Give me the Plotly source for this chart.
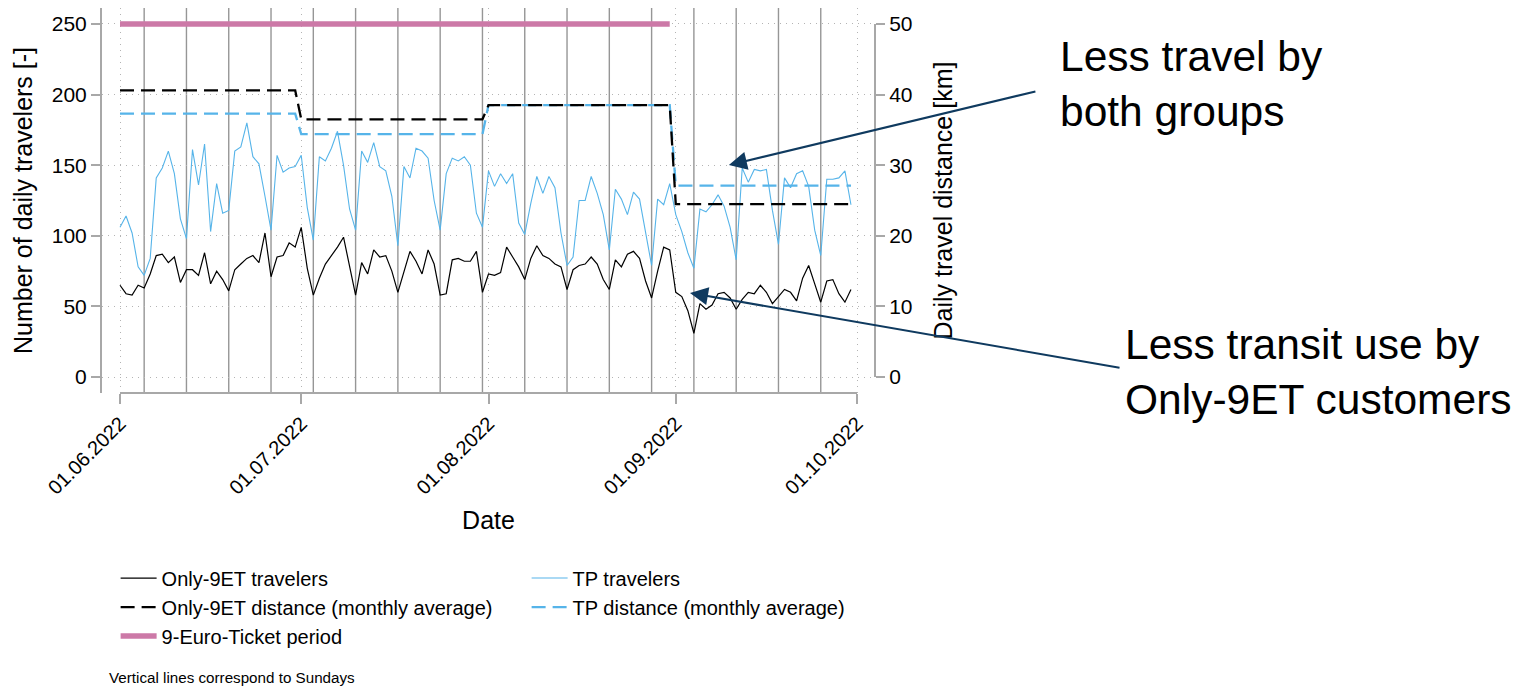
import pandas as pd
import plotly.graph_objects as go

# ---------------- data ----------------
start_date = "2022-06-01"

only9et_travelers = [
    65, 59, 58, 65, 63, 73, 86, 87, 81, 85, 67, 76, 76, 72, 88, 66, 75, 69, 61, 76,
    80, 84, 86, 81, 102, 71, 85, 86, 95, 92,
    106, 77, 58, 70, 80, 86, 92, 99, 78, 58, 81, 73, 90, 85, 86, 75, 60, 75, 89, 82,
    73, 90, 80, 58, 59, 83, 84, 82, 82, 89, 60,
    73, 72, 74, 92, 85, 78, 69, 84, 93, 86, 84, 80, 78, 62, 76, 79, 80, 85, 80,
    69, 62, 83, 78, 87, 89, 84, 68, 56, 75, 92, 90,
    60, 57, 47, 31, 52, 48, 51, 59, 60, 56, 48, 55, 60, 59, 65, 60, 52, 57, 62, 60,
    54, 70, 79, 66, 53, 68, 69, 59, 53, 62,
]

tp_travelers = [
    106, 114, 102, 78, 72, 84, 141, 148, 160, 144, 112, 98, 161, 136, 165, 103, 137, 116, 118, 160,
    163, 180, 156, 151, 128, 104, 157, 145, 148, 149,
    157, 120, 97, 156, 153, 162, 174, 150, 119, 104, 160, 152, 166, 149, 146, 128, 93, 149, 141, 162,
    160, 155, 125, 104, 144, 155, 153, 156, 150, 116, 106,
    146, 135, 144, 137, 144, 109, 101, 123, 142, 130, 142, 134, 102, 79, 85, 125, 125, 142, 130,
    115, 90, 133, 126, 115, 131, 126, 101, 79, 126, 122, 137,
    115, 103, 88, 77, 119, 117, 122, 129, 121, 106, 83, 148, 138, 147, 146, 147, 118, 94, 141, 134,
    144, 146, 135, 104, 86, 140, 140, 141, 146, 122,
]

months = ["2022-06", "2022-07", "2022-08", "2022-09"]
only9et_distance_monthly = [40.6, 36.5, 38.5, 24.5]
tp_distance_monthly = [37.3, 34.4, 38.5, 27.1]

ticket_period = ["2022-06-01", "2022-08-31"]
ticket_level = [250, 250]

x_tick_dates = ["2022-06-01", "2022-07-01", "2022-08-01", "2022-09-01", "2022-10-01"]
x_tick_labels = ["01.06.2022", "01.07.2022", "01.08.2022", "01.09.2022", "01.10.2022"]
y_left_ticks = [0, 50, 100, 150, 200, 250]
y_right_ticks = [0, 10, 20, 30, 40, 50]

# ---------------- derived ----------------
dates = pd.date_range(start_date, periods=len(only9et_travelers), freq="D")
month_keys = list(dates.strftime("%Y-%m"))
o9_dist_daily = [only9et_distance_monthly[months.index(m)] for m in month_keys]
tp_dist_daily = [tp_distance_monthly[months.index(m)] for m in month_keys]
sundays = [d for d in dates if d.dayofweek == 6]

FONT = "Liberation Sans, Arial, Helvetica, sans-serif"
BLUE = "#56B4E9"
PINK = "#CC79A7"
NAVY = "#0f3a5f"
AXIS_GRAY = "#a8a8a8"
GRID_GRAY = "#b4b4b4"
GRID_DASH = "1px,5px"

fig = go.Figure()

fig.add_trace(go.Scatter(x=dates, y=tp_travelers, mode="lines", name="TP travelers",
                         line=dict(color=BLUE, width=1.1), legendrank=2, yaxis="y"))
fig.add_trace(go.Scatter(x=dates, y=only9et_travelers, mode="lines", name="Only-9ET travelers",
                         line=dict(color="black", width=1.2), legendrank=1, yaxis="y"))
fig.add_trace(go.Scatter(x=ticket_period, y=ticket_level, mode="lines", name="9-Euro-Ticket period",
                         line=dict(color=PINK, width=5.5), legendrank=5, yaxis="y"))
fig.add_trace(go.Scatter(x=dates, y=tp_dist_daily, mode="lines", name="TP distance (monthly average)",
                         line=dict(color=BLUE, width=2.3, dash="14px,7px"), legendrank=4, yaxis="y2"))
fig.add_trace(go.Scatter(x=dates, y=o9_dist_daily, mode="lines", name="Only-9ET distance (monthly average)",
                         line=dict(color="black", width=2.3, dash="14px,7px"), legendrank=3, yaxis="y2"))

shapes = []
for s in sundays:
    shapes.append(dict(type="line", xref="x", yref="paper", x0=s, x1=s, y0=0, y1=1,
                       line=dict(color="#969696", width=1.4), layer="below"))
# x axis line spanning only the labelled range
shapes.append(dict(type="line", xref="x", yref="paper", x0=x_tick_dates[0], x1=x_tick_dates[-1],
                   y0=0, y1=0, line=dict(color=AXIS_GRAY, width=2), layer="above"))
# right axis line spanning only 0..50
shapes.append(dict(type="line", xref="paper", yref="y2", x0=1, x1=1,
                   y0=y_right_ticks[0], y1=y_right_ticks[-1], line=dict(color=AXIS_GRAY, width=2), layer="above"))

annotations = [
    dict(xref="paper", yref="paper", x=0.811, y=0.592, ax=308, ay=-74,
         text="", showarrow=True, arrowhead=2, arrowsize=1.8, arrowwidth=2, arrowcolor=NAVY),
    dict(xref="paper", yref="paper", x=0.7607, y=0.2597, ax=431, ay=75,
         text="", showarrow=True, arrowhead=2, arrowsize=1.8, arrowwidth=2, arrowcolor=NAVY),
    dict(xref="paper", yref="paper", x=1.2367, y=0.8026, xanchor="left", yanchor="middle",
         align="left", showarrow=False, text="Less travel by<br>both groups",
         font=dict(size=42.5, color="black", family=FONT)),
    dict(xref="paper", yref="paper", x=1.3208, y=0.0545, xanchor="left", yanchor="middle",
         align="left", showarrow=False, text="Less transit use by<br>Only-9ET customers",
         font=dict(size=42.5, color="black", family=FONT)),
    dict(xref="paper", yref="paper", x=0.0065, y=-0.74, xanchor="left", yanchor="middle",
         align="left", showarrow=False, text="Vertical lines correspond to Sundays",
         font=dict(size=15.2, color="black", family=FONT)),
]

fig.update_layout(
    width=1527, height=688,
    margin=dict(l=102, r=652, t=8, b=295, autoexpand=False),
    paper_bgcolor="white", plot_bgcolor="white",
    font=dict(family=FONT, color="black", size=20),
    shapes=shapes, annotations=annotations,
    showlegend=True,
    legend=dict(orientation="h", x=-0.0005, xanchor="left", y=-0.43, yanchor="top",
                entrywidth=346, entrywidthmode="pixels", indentation=14, itemwidth=36,
                font=dict(size=20, family=FONT), bgcolor="rgba(0,0,0,0)",
                traceorder="normal", tracegroupgap=0),
    xaxis=dict(
        type="date", automargin=False,
        range=["2022-05-29 00:30", "2022-10-03 23:30"],
        tickvals=x_tick_dates, ticktext=x_tick_labels, tickangle=-45,
        ticks="outside", ticklen=10, tickwidth=1.5, tickcolor=AXIS_GRAY,
        showgrid=True, griddash=GRID_DASH, gridcolor=GRID_GRAY, gridwidth=1,
        showline=False, zeroline=False,
        tickfont=dict(size=20),
        title=dict(text="Date", font=dict(size=25), standoff=13),
    ),
    yaxis=dict(
        automargin=False,
        range=[-11.3, 261.3], tickvals=y_left_ticks,
        ticks="outside", ticklen=9, tickwidth=1.5, tickcolor=AXIS_GRAY,
        showline=True, linecolor=AXIS_GRAY, linewidth=2,
        showgrid=True, griddash=GRID_DASH, gridcolor=GRID_GRAY, gridwidth=1,
        zeroline=False, tickfont=dict(size=21),
        title=dict(text="Number of daily travelers [-]", font=dict(size=25), standoff=12),
    ),
    yaxis2=dict(
        automargin=False,
        overlaying="y", side="right",
        range=[-2.26, 52.26], tickvals=y_right_ticks,
        ticks="outside", ticklen=9, tickwidth=1.5, tickcolor=AXIS_GRAY,
        showline=False, showgrid=False, zeroline=False, tickfont=dict(size=21),
        title=dict(text="Daily travel distance [km]", font=dict(size=25), standoff=22),
    ),
)

fig.write_html("out.html", config={"displayModeBar": False},
               post_script="document.body.style.margin='0px';")
